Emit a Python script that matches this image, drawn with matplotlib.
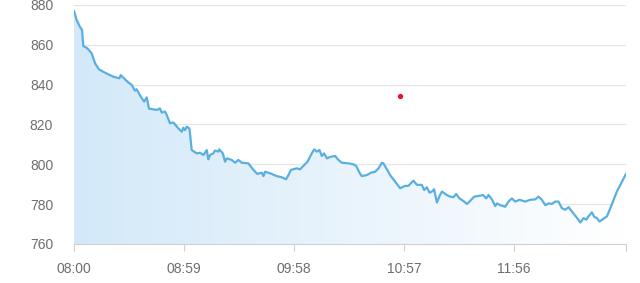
import numpy as np
import matplotlib
matplotlib.use("Agg")
import matplotlib.pyplot as plt
from matplotlib.colors import LinearSegmentedColormap

plt.rcParams['font.family'] = ['Liberation Sans', 'DejaVu Sans']

# minutes since 08:00 and price values
minutes = [0, 1.4, 3.2, 4.3, 5, 7.1, 9.5, 11.3, 13.4, 16.6, 21.1, 24.3, 25.1, 28.3, 31,
           32.7, 33.6, 35.8, 37.6, 39, 40.2, 44.4, 46.1, 47, 48.8, 49.7, 51.5, 53.3, 56,
           57.8, 58.6, 59.5, 60.5, 61.9, 62.2, 63.1, 65.8, 67.6, 69.4, 71.2, 72, 73, 74.7,
           75.6, 77.4, 77.9, 79.8, 81, 81.9, 84.6, 86.4, 88.1, 90, 93.5, 96.2, 98.3, 100.7,
           101.6, 102.5, 105.2, 108.7, 111.4, 113.7, 115, 116.3, 119.5, 121.2, 123, 125.2,
           127.5, 128.8, 130.2, 131.6, 132.9, 134.1, 135.6, 137.7, 140, 141.8, 143.6, 147.2,
           149.8, 151.3, 153.1, 154.3, 157, 159.2, 161.5, 163.3, 165.1, 165.9, 167.8, 169.5,
           172.2, 174.9, 177.6, 179.3, 182, 183.9, 186.5, 187.8, 189.2, 190.6, 191.9, 193.1,
           194.6, 196, 197.3, 199.9, 201.7, 203.5, 204.9, 206.7, 208.8, 210.7, 212.1, 214.6,
           216.9, 219.3, 221, 222.3, 224.1, 225.9, 226.8, 228.5, 231.2, 233, 234.8, 236.6,
           238.9, 242, 244.6, 247.3, 249.1, 250.9, 252.7, 254.5, 256.3, 258, 259.8, 261.6,
           263.4, 265.2, 267, 268.8, 270.5, 271.5, 273.2, 274.7, 275.9, 277.7, 279, 280.4,
           281.8, 283.6, 285.8, 287.6, 291.1, 296]
prices = [877, 872.5, 869, 867.5, 859.4, 858.3, 855.7, 850.7, 847.7, 846, 844, 843.2, 844.8,
          841.8, 839.8, 837, 837.7, 834, 831.5, 833.6, 828, 827.3, 828.1, 826, 826.5, 824.8,
          820.6, 821, 818, 816.4, 818.4, 817.2, 818.9, 818, 815.6, 807.2, 805.5, 805.8, 804.7,
          807.2, 802.5, 804.7, 805.5, 806.9, 806.4, 807.5, 805.5, 801.3, 803, 802.2, 800.8,
          802.2, 800.8, 800.5, 797.2, 795.2, 795.8, 794.1, 796.3, 795.5, 794.1, 793.5, 792.5,
          794.6, 797.2, 798, 797.5, 799.2, 801.3, 805.5, 807.5, 806.4, 807.2, 804.2, 805.5,
          803, 803.8, 804.2, 802.2, 800.8, 800.5, 800, 799.2, 795.8, 794.1, 794.6, 795.8,
          796.3, 798, 800.8, 800.5, 797.5, 794.6, 791.3, 788, 789.2, 789.2, 791.8, 789.7,
          789.7, 787.1, 788.5, 785.8, 786.3, 787.5, 780.8, 784.1, 786.3, 784.6, 783.8, 783.5,
          785.1, 782.9, 781.6, 780.1, 781.3, 783.8, 784.1, 784.6, 782.9, 784.6, 782.4, 779,
          780.4, 779.5, 778.7, 781.3, 782.9, 781.3, 782.2, 781.3, 782.2, 782.4, 783.8, 782.2,
          779.5, 780.4, 780.1, 781.3, 781.3, 778, 777.2, 778.5, 776.3, 774.2, 772.2, 770.8,
          773, 772.2, 773.9, 775.9, 773.6, 773, 771.3, 772.5, 773.9, 778, 786.3, 795.2]

tick_pos = [0, 59, 118, 177, 236]
tick_labels = ["08:00", "08:59", "09:58", "10:57", "11:56"]
dot_x, dot_y = 175, 834.3

x = np.array(minutes)
y = np.array(prices)

fig = plt.figure(figsize=(6.4, 2.83), dpi=100)
ax = fig.add_axes([74 / 640, 39 / 283, 552 / 640, 239 / 283])
xmax = 296
ax.set_xlim(0, xmax)
ax.set_ylim(760, 880)

# horizontal gradient fill under the line
cmap = LinearSegmentedColormap.from_list("fade", ["#d3e9f9", "#ffffff"])
grad = np.linspace(0, 1, 256).reshape(1, -1)
img = ax.imshow(grad, cmap=cmap, aspect='auto', extent=[0, xmax, 760, 880],
                zorder=1, interpolation='bicubic')
poly = ax.fill_between(x, y, 760, color='none', linewidth=0)
clip = poly.get_paths()[0]
img.set_clip_path(clip, transform=ax.transData)

ax.plot(x, y, color='#5aafe0', linewidth=1.6, zorder=3)
ax.plot([dot_x], [dot_y], 'o', color='#e8132b', markersize=2.8, zorder=4)

ax.set_yticks(np.arange(760, 881, 20))
ax.grid(axis='y', color='#e6e6e6', linewidth=1)
ax.set_axisbelow(True)
ax.set_xticks(tick_pos + [xmax])
ax.set_xticklabels(tick_labels + [""])

for s in ['top', 'right', 'left']:
    ax.spines[s].set_visible(False)
ax.spines['bottom'].set_color('#d0d0d0')
ax.tick_params(axis='y', length=0, pad=15, labelsize=10, labelcolor='#6e6e6e')
ax.tick_params(axis='x', length=5, color='#d0d0d0', pad=8, labelsize=10, labelcolor='#6e6e6e')

fig.savefig("out.png", dpi=100)
